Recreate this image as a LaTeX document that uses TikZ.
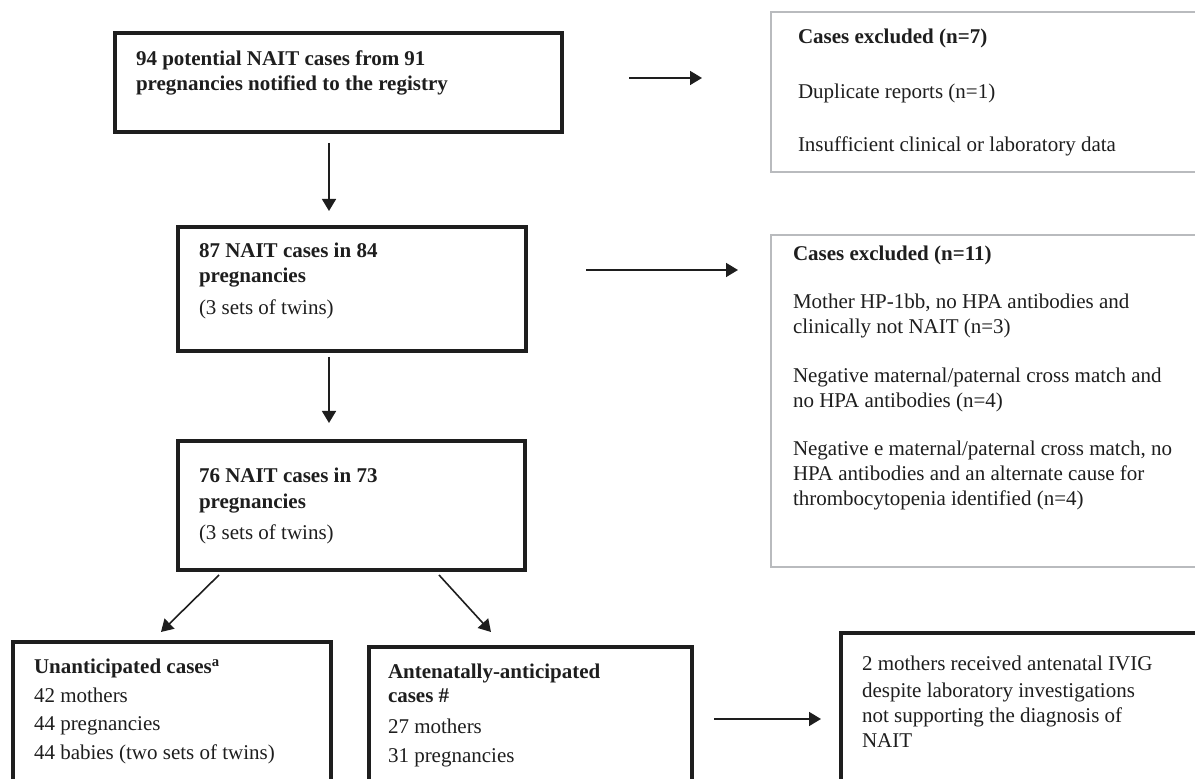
\documentclass[tikz,border=0pt]{standalone}
\usepackage{fontspec}
\setmainfont{Liberation Serif}
\usetikzlibrary{arrows.meta,fit,calc}
\definecolor{exgray}{RGB}{185,187,190}
\definecolor{ink}{RGB}{30,30,30}
\newcommand{\topstrut}{\rule{0pt}{8.75pt}}
\begin{document}
\begin{tikzpicture}[x=0.5pt,y=-0.5pt,
  mainbox/.style={draw=ink, line width=2pt, inner sep=0pt, outer sep=0pt},
  exclbox/.style={draw=exgray, line width=1pt, inner sep=0pt, outer sep=0pt},
  txt/.style={anchor=north west, inner sep=0pt, outer sep=0pt, align=left, text=ink},
  arr/.style={draw=ink, line width=0.8pt, -{Triangle[length=6pt,width=7pt]}}]
\clip (0,0) rectangle (1195,779);
\fill[white] (0,0) rectangle (1195,779);

% boxes
\node[mainbox, fit={(115,33)(562,132)}] (b1) {};
\node[mainbox, fit={(178,227)(526,351)}] (b2) {};
\node[mainbox, fit={(178,441)(525,570)}] (b3) {};
\node[mainbox, fit={(13,642)(331,800)}] (b4) {};
\node[mainbox, fit={(369,647)(692,800)}] (b5) {};
\node[mainbox, fit={(841,633)(1210,800)}] (b6) {};
\node[exclbox, fit={(771,12)(1210,172)}] (e1) {};
\node[exclbox, fit={(771,235)(1210,567)}] (e2) {};

% texts
\node[txt, font=\fontsize{10.5}{12.5}\selectfont\bfseries] (t1) at (136,48.5)
  {\topstrut 94 potential NAIT cases from 91\\pregnancies notified to the registry};
\node[txt, font=\fontsize{10.5}{12.5}\selectfont] (t2) at (199,240.5)
  {\topstrut\textbf{87 NAIT cases in 84}\\\textbf{pregnancies}\\[3.5pt](3 sets of twins)};
\node[txt, font=\fontsize{10.5}{12.75}\selectfont] (t3) at (199,465.5)
  {\topstrut\textbf{76 NAIT cases in 73}\\\textbf{pregnancies}\\[2.75pt](3 sets of twins)};
\node[txt, font=\fontsize{10.5}{14.25}\selectfont] (t4) at (34,656.5)
  {\topstrut\textbf{Unanticipated cases\textsuperscript{a}}\\42 mothers\\44 pregnancies\\44 babies (two sets of twins)};
\node[txt, font=\fontsize{10.5}{12}\selectfont] (t5) at (388,661.5)
  {\topstrut\textbf{Antenatally-anticipated}\\\textbf{cases \#}\\[3.5pt]27 mothers\\[2.5pt]31 pregnancies};
\node[txt, font=\fontsize{10.5}{12.5}\selectfont] (t6) at (862,653.5)
  {\topstrut 2 mothers received antenatal IVIG\\[1pt]despite laboratory investigations\\not supporting the diagnosis of\\NAIT};
\node[txt, font=\fontsize{10.5}{12.5}\selectfont] (te1) at (798,26.5)
  {\topstrut\textbf{Cases excluded (n=7)}\\[15pt]Duplicate reports (n=1)\\[14pt]Insufficient clinical or laboratory data};
\node[txt, font=\fontsize{10.5}{12.5}\selectfont] (te2) at (793,243.5)
  {\topstrut\textbf{Cases excluded (n=11)}\\[11.5pt]Mother HP-1bb, no HPA antibodies and\\clinically not NAIT (n=3)\\[12pt]Negative maternal/paternal cross match and\\no HPA antibodies (n=4)\\[11.5pt]Negative e maternal/paternal cross match, no\\HPA antibodies and an alternate cause for\\thrombocytopenia identified (n=4)};

% connectors
\draw[arr] ($(b1.south)+(-9.5,11)$) -- ($(b2.north)+(-23,-16)$);
\draw[arr] ($(b2.south)+(-23,6)$) -- ($(b3.north)+(-22.5,-18)$);
\draw[arr] ($(b3.south west)+(41,5)$) -- ($(b4.north)+(-11,-10)$);
\draw[arr] ($(b3.south east)+(-86,5)$) -- ($(b5.north)+(-39.5,-15)$);
\draw[arr] ($(b1.east)+(67,-4.5)$) -- ($(e1.west)+(-69,-14)$);
\draw[arr] ($(b2.east)+(60,-19)$) -- ($(e2.west)+(-33,-131)$);
\draw[arr] ($(b5.east)+(22,-4.5)$) -- ($(b6.west)+(-20,2.5)$);
\end{tikzpicture}
\end{document}
